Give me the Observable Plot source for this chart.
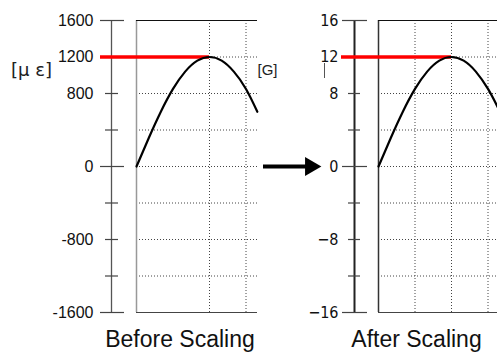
<!DOCTYPE html>
<html><head><meta charset="utf-8">
<script src="https://cdn.jsdelivr.net/npm/d3@7"></script>
<script src="https://cdn.jsdelivr.net/npm/@observablehq/plot@0.6"></script>
<style>
body{margin:0;background:#fff;}
#root{position:relative;width:497px;height:354px;overflow:hidden;background:#fff;}
#root svg{position:absolute;top:0;background:transparent;overflow:visible;}
</style></head><body><div id="root"></div>
<script>
// ---- data ----
const phaseBefore = [0, 15, 30, 45, 60, 75, 90, 105, 120, 135, 149];
const strainBefore = [0, 310, 600, 850, 1040, 1160, 1200, 1160, 1040, 850, 600];
const phaseAfter = [0, 15, 30, 45, 60, 75, 90, 105, 120, 135, 147];
const accelAfter = [0, 3.1, 6.0, 8.5, 10.4, 11.6, 12, 11.6, 10.4, 8.5, 6.5];
const ticksBefore = [-1600, -1200, -800, -400, 0, 400, 800, 1200, 1600];
const tickLabelsBefore = ["-1600", "", "-800", "", "0", "", "800", "1200", "1600"];
const ticksAfter = [-16, -12, -8, -4, 0, 4, 8, 12, 16];
const tickLabelsAfter = ["\u221216", "", "\u22128", "", "0", "", "8", "12", "16"];
const longTicksBefore = [-1600, 0, 1200, 1600];
const longTicksAfter = [-16, 0, 12, 16];
const gridPhaseBefore = [90, 135];
const gridPhaseAfter = [45, 90, 135];
const peakBefore = 1200, peakAfter = 12, peakPhase = 90;
const unitBefore = "[\u03bc \u03b5]", unitAfter = "[G]";
const titleBefore = "Before Scaling", titleAfter = "After Scaling";

// ---- layout (page pixels) ----
const K = 90 / 73;            // phase degrees per pixel
const TOP = 20, BOTTOM = 312, H = 354;

function panel(o) {
  const ymax = o.ymax;
  const xd = px => (px - o.frameLeft) * K;
  const yd = py => ymax - (py - TOP) / (BOTTOM - TOP) * 2 * ymax;
  const xMax = xd(o.frameRight);
  const curve = o.phase.map((p, i) => ({p, v: o.values[i]}));
  const ticks = o.ticks.map((t, i) => ({t, label: o.labels[i], long: o.longTicks.includes(t)}));
  const inner = o.ticks.filter(t => Math.abs(t) < ymax);
  const marks = [
    // dotted grid
    Plot.ruleY(inner, {x1: 0, x2: xMax, stroke: "#444", strokeWidth: 1, strokeDasharray: "1,2"}),
    Plot.ruleX(o.grid, {y1: -ymax, y2: ymax, stroke: "#444", strokeWidth: 1, strokeDasharray: "1,2"}),
    // frame lines
    Plot.ruleX([0], {y1: -ymax, y2: ymax, stroke: o.frameColor, strokeWidth: 1.5}),
    Plot.ruleY([ymax], {x1: 0, x2: xMax, stroke: "#111", strokeWidth: 1.2}),
    Plot.ruleY([-ymax], {x1: 0, x2: xMax, stroke: "#444", strokeWidth: 1.2}),
    // axis line + ticks
    Plot.ruleX([xd(o.axisX)], {y1: -ymax, y2: ymax, stroke: o.axisColor, strokeWidth: o.axisWidth}),
    Plot.ruleY(ticks.filter(d => d.long), {y: "t", x1: xd(o.longTick[0]), x2: xd(o.longTick[1]), stroke: "#444", strokeWidth: 1.2}),
    Plot.ruleY(ticks.filter(d => !d.long), {y: "t", x1: xd(o.shortTick[0]), x2: xd(o.shortTick[1]), stroke: "#444", strokeWidth: 1.2}),
    Plot.text(ticks.filter(d => d.label), {y: "t", x: xd(o.labelRight), text: "label", textAnchor: "end",
      fontSize: 16, fontFamily: o.labelFont, fill: "#111"}),
    // peak marker
    Plot.ruleY([o.peak], {x1: xd(o.redStart), x2: peakPhase, stroke: "#ff0000", strokeWidth: 3.5}),
    // curve
    Plot.line(curve, {x: "p", y: "v", curve: "natural", stroke: "#000", strokeWidth: 2.2}),
    // caption
    Plot.text([o.title], {x: xd(o.titleX), frameAnchor: "bottom", dy: 34, lineAnchor: "bottom",
      fontSize: 23, fontFamily: "Liberation Sans, Arial, sans-serif", fill: "#111"}),
    // unit
    Plot.text([o.unit], {x: xd(o.unitX), y: yd(70), fontSize: o.unitSize, fontFamily: o.unitFont, fill: "#222"})
  ].concat(o.extra ? o.extra(xd, yd) : []);
  const svg = Plot.plot({
    width: o.width, height: H,
    marginLeft: o.frameLeft - o.left, marginRight: o.left + o.width - o.frameRight,
    marginTop: TOP, marginBottom: H - BOTTOM,
    x: {domain: [0, xMax], axis: null},
    y: {domain: [-ymax, ymax], axis: null},
    style: {background: "transparent", overflow: "visible"},
    marks
  });
  svg.style.left = o.left + "px";
  document.getElementById("root").appendChild(svg);
}

panel({
  left: 0, width: 265, frameLeft: 136, frameRight: 257, ymax: 1600,
  phase: phaseBefore, values: strainBefore, ticks: ticksBefore, labels: tickLabelsBefore,
  longTicks: longTicksBefore, grid: gridPhaseBefore, peak: peakBefore,
  axisX: 111, axisColor: "#555", axisWidth: 1.3, frameColor: "#999",
  longTick: [100, 124], shortTick: [105, 118], labelRight: 93, redStart: 100,
  labelFont: "Liberation Sans, Arial, sans-serif",
  title: titleBefore, titleX: 179.5,
  unit: unitBefore, unitX: 31, unitSize: 18, unitFont: "DejaVu Sans, sans-serif"
});

panel({
  left: 250, width: 247, frameLeft: 378, frameRight: 497, ymax: 16,
  phase: phaseAfter, values: accelAfter, ticks: ticksAfter, labels: tickLabelsAfter,
  longTicks: longTicksAfter, grid: gridPhaseAfter, peak: peakAfter,
  axisX: 354, axisColor: "#222", axisWidth: 2, frameColor: "#333",
  longTick: [342, 367], shortTick: [348, 360], labelRight: 338, redStart: 341,
  labelFont: "Liberation Sans Narrow, DejaVu Sans Condensed, sans-serif",
  title: titleAfter, titleX: 416,
  unit: unitAfter, unitX: 267, unitSize: 15, unitFont: "Liberation Sans, Arial, sans-serif",
  extra: (xd, yd) => [
    Plot.ruleX([xd(324)], {y1: yd(63), y2: yd(78), stroke: "#555", strokeWidth: 1}),
    Plot.ruleY([0], {x1: xd(263), x2: xd(308), stroke: "#000", strokeWidth: 4}),
    Plot.dot([0], {x: xd(310), y: 0, symbol: "triangle", r: 7, rotate: 90, fill: "#000", stroke: "none"})
  ]
});
</script></body></html>
